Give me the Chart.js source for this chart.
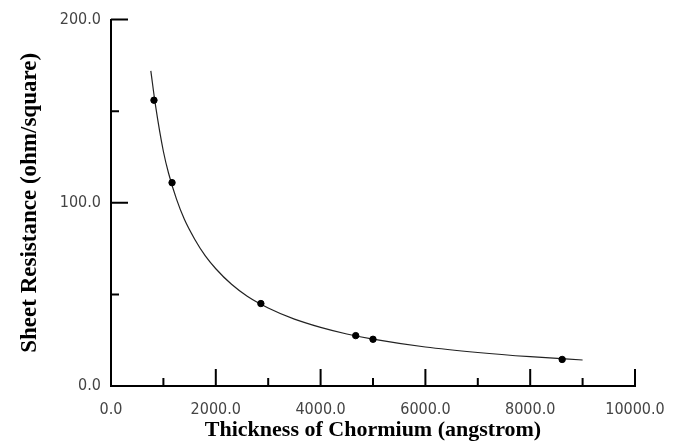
<!DOCTYPE html>
<html>
<head>
<meta charset="utf-8">
<script src="https://cdn.jsdelivr.net/npm/chart.js@4/dist/chart.umd.min.js"></script>
<style>
  html, body { margin: 0; padding: 0; background: #fff; }
  #wrap { width: 682px; height: 441px; position: relative; }
</style>
</head>
<body>
<div id="wrap"><canvas id="c"></canvas></div>
<script>
// measured points
const thickness = [820, 1165, 2860, 4670, 5000, 8610];
const resistance = [156, 111, 45, 27.5, 25.5, 14.5];

// fitted curve
const curveX = [760, 850, 1000, 1100, 1250, 1400, 1600, 1800, 2000, 2300, 2600, 3000, 3500, 4000, 4500, 5000, 6000, 7000, 8000, 9000];
const curveY = [172, 153, 128, 116, 102, 91, 80, 71, 64, 55.5, 49, 42.6, 36.5, 32, 28.4, 25.6, 21.3, 18.3, 16, 14.2];

const xMajor = [2000, 4000, 6000, 8000, 10000];
const xMinor = [1000, 3000, 5000, 7000, 9000];
const yMajor = [100, 200];
const yMinor = [50, 150];

const tickFont = { family: 'Liberation Sans Narrow, DejaVu Sans Condensed, sans-serif', size: 16 };
const xTitleFont = { family: 'Liberation Serif, Times New Roman, serif', size: 22, weight: 'bold' };
const yTitleFont = { family: 'Liberation Serif, Times New Roman, serif', size: 23, weight: 'bold' };

// ticks point inward, drawn from the scales
const inwardTicks = {
  id: 'inwardTicks',
  afterDraw(chart) {
    const { ctx, scales: { x, y } } = chart;
    ctx.save();
    ctx.strokeStyle = '#000';
    ctx.lineWidth = 2;
    ctx.beginPath();
    xMajor.forEach(v => { const px = x.getPixelForValue(v); ctx.moveTo(px, y.bottom); ctx.lineTo(px, y.bottom - 17); });
    xMinor.forEach(v => { const px = x.getPixelForValue(v); ctx.moveTo(px, y.bottom); ctx.lineTo(px, y.bottom - 8); });
    yMajor.forEach(v => { const py = y.getPixelForValue(v); ctx.moveTo(x.left, py); ctx.lineTo(x.left + 17, py); });
    yMinor.forEach(v => { const py = y.getPixelForValue(v); ctx.moveTo(x.left, py); ctx.lineTo(x.left + 8, py); });
    ctx.stroke();
    ctx.restore();
  }
};

new Chart(document.getElementById('c'), {
  type: 'scatter',
  data: {
    datasets: [
      {
        data: thickness.map((t, i) => ({ x: t, y: resistance[i] })),
        backgroundColor: '#000',
        borderColor: '#000',
        pointRadius: 3.2,
        showLine: false
      },
      {
        data: curveX.map((t, i) => ({ x: t, y: curveY[i] })),
        borderColor: '#222',
        borderWidth: 1.2,
        pointRadius: 0,
        showLine: true,
        cubicInterpolationMode: 'monotone'
      }
    ]
  },
  options: {
    responsive: true,
    maintainAspectRatio: false,
    animation: false,
    layout: { padding: { top: 19, right: 47, left: 0, bottom: 0 } },
    plugins: { legend: { display: false }, tooltip: { enabled: false } },
    scales: {
      x: {
        type: 'linear',
        min: 0, max: 10000,
        grid: { display: false, drawTicks: false },
        border: { display: true, color: '#000', width: 2 },
        ticks: {
          stepSize: 2000,
          color: '#444',
          font: tickFont,
          padding: 14,
          maxRotation: 0,
          callback: v => v.toFixed(1)
        },
        title: {
          display: true,
          text: 'Thickness of Chormium (angstrom)',
          color: '#000',
          font: xTitleFont,
          padding: { top: 0, bottom: -3 }
        },
        afterFit: s => { s.height = 55; }
      },
      y: {
        type: 'linear',
        min: 0, max: 200,
        grid: { display: false, drawTicks: false },
        border: { display: true, color: '#000', width: 2 },
        ticks: {
          stepSize: 100,
          color: '#444',
          font: tickFont,
          padding: 10,
          callback: v => v.toFixed(1)
        },
        title: {
          display: true,
          text: 'Sheet Resistance (ohm/square)',
          color: '#000',
          font: yTitleFont,
          padding: { top: 16, bottom: 0 }
        },
        afterFit: s => { s.width = 111; }
      }
    }
  },
  plugins: [inwardTicks]
});
</script>
</body>
</html>
